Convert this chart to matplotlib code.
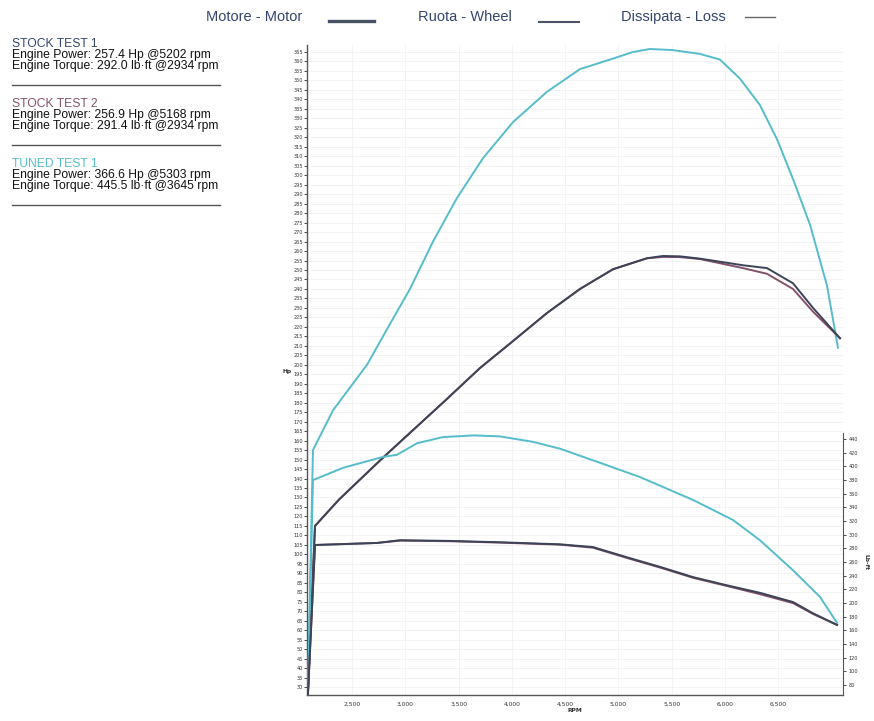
import numpy as np
import matplotlib

matplotlib.use("Agg")
import matplotlib.pyplot as plt  # noqa: E402
from matplotlib.lines import Line2D  # noqa: E402

# ---- data ----
rpm_tuned_power = [2085, 2134, 2322, 2641, 2856, 3044, 3260, 3485, 3729, 4010,
                   4329, 4639, 4920, 5136, 5295, 5511, 5764, 5952, 6139, 6327,
                   6487, 6637, 6796, 6955, 7059]
hp_tuned = [25, 155, 176, 200, 221.5, 240, 265, 288, 309, 328,
            344, 356, 361, 365, 366.6, 366, 364, 361, 351, 337,
            319, 298, 274, 242, 209]

rpm_stock_power = [2085, 2153, 2380, 2697, 2810, 3372, 3701, 4010, 4329, 4639,
                   4948, 5267, 5417, 5577, 5764, 6168, 6393, 6637, 6825, 7078]
hp_stock1 = [25, 115, 129, 146, 152, 181, 198.3, 212.5, 227.3, 240,
             250.4, 256.2, 257.4, 257.2, 256, 252.5, 251, 243, 230, 214]
hp_stock2 = [25, 115, 129, 146, 152, 181, 198.3, 212.5, 227.3, 240,
             250.4, 256.2, 256.9, 256.8, 255.8, 251, 248, 240, 228, 214]

rpm_stock_torque = [2085, 2153, 2734, 2950, 3419, 3888, 4451, 4761, 5080, 5389,
                    5699, 6017, 6327, 6637, 6825, 7050]
tq_stock1 = [60, 285, 288, 292, 291, 289, 286, 282, 267, 253,
             238, 226, 215, 201.5, 185, 168]
tq_stock2 = [60, 285, 288, 291.4, 290.5, 288.5, 285.5, 281, 266, 252,
             237, 225, 213, 200, 184, 168]

rpm_tuned_torque = [2085, 2134, 2416, 2791, 2922, 3110, 3354, 3645, 3888, 4198,
                    4451, 4761, 5201, 5699, 6074, 6327, 6637, 6890, 7050]
tq_tuned = [60, 380, 398, 414, 417, 434, 443, 445.5, 444, 436,
            426, 409, 384.5, 351, 321.6, 292, 248, 209, 171]

hp_ticks = list(range(30, 366, 5))
tq_ticks = list(range(80, 441, 20))
rpm_ticks = list(range(2500, 6501, 500))

tests = [
    ("STOCK TEST 1", "Engine Power: 257.4 Hp @5202 rpm",
     "Engine Torque: 292.0 lb\u00b7ft @2934 rpm"),
    ("STOCK TEST 2", "Engine Power: 256.9 Hp @5168 rpm",
     "Engine Torque: 291.4 lb\u00b7ft @2934 rpm"),
    ("TUNED TEST 1", "Engine Power: 366.6 Hp @5303 rpm",
     "Engine Torque: 445.5 lb\u00b7ft @3645 rpm"),
]

C_STOCK1 = "#3c4458"
C_STOCK2 = "#84506a"
C_TUNED = "#55bccb"
C_TEXT = "#34466e"
FONT = ["Liberation Sans", "DejaVu Sans"]

W, H = 874, 721
fig = plt.figure(figsize=(W / 100, H / 100), dpi=100)
fig.patch.set_facecolor("white")

x0, x1, ytop, ybot = 307, 843, 45, 695
ax = fig.add_axes([x0 / W, 1 - ybot / H, (x1 - x0) / W, (ybot - ytop) / H])

ax.plot(rpm_tuned_power, hp_tuned, color=C_TUNED, lw=1.4)
ax.plot(rpm_stock_power, hp_stock2, color=C_STOCK2, lw=1.4)
ax.plot(rpm_stock_power, hp_stock1, color=C_STOCK1, lw=1.4)

ax.set_xlim(2078, 7106)
ax.set_ylim(25.8, 368.7)
ax.set_yticks(hp_ticks)
ax.set_xticks(rpm_ticks)
ax.set_xticklabels([f"{r:,}" for r in rpm_ticks])
ax.tick_params(axis="y", labelsize=3.6, length=2, width=0.5, pad=1,
               labelcolor="#333333")
ax.tick_params(axis="x", labelsize=4.3, length=0, pad=5, labelcolor="#333333")
ax.grid(True, color="#f1f1f1", lw=0.6)
ax.set_axisbelow(True)
for side in ["top", "right"]:
    ax.spines[side].set_visible(False)
for side in ["left", "bottom"]:
    ax.spines[side].set_color("#555555")
    ax.spines[side].set_linewidth(1.0)

ax.set_xlabel("RPM", fontsize=4.3, fontweight="bold", labelpad=0.5,
              color="#333333")
ax.set_ylabel("Hp", fontsize=4.3, fontweight="bold", rotation=0,
              color="#333333")
ax.yaxis.set_label_coords(-0.038, (195 - 25.8) / (368.7 - 25.8))

# torque on a short right-hand axis
axr = ax.twinx()
axr.plot(rpm_tuned_torque, tq_tuned, color=C_TUNED, lw=1.4)
axr.plot(rpm_stock_torque, tq_stock2, color=C_STOCK2, lw=1.4)
axr.plot(rpm_stock_torque, tq_stock1, color=C_STOCK1, lw=1.4)
axr.set_ylim(65.4, 1017)
axr.set_yticks(tq_ticks)
axr.tick_params(axis="y", labelsize=3.6, length=2, width=0.5, pad=2,
                labelcolor="#333333")
for side in ["top", "left", "bottom"]:
    axr.spines[side].set_visible(False)
axr.spines["right"].set_bounds(65.4, 449)
axr.spines["right"].set_color("#555555")
axr.text(1.043, (260 - 65.4) / (1017 - 65.4), "Lb-ft", rotation=270,
         transform=axr.transAxes, fontsize=4.3, fontweight="bold",
         ha="center", va="center", color="#333333")


def px(x, y):
    return x / W, 1 - y / H


# header legend
for label, cx, (lx0, lx1), ly, lw, lc in [
    ("Motore - Motor", 254, (329, 374), 21, 2.4, "#4a5266"),
    ("Ruota - Wheel", 465, (539, 579), 22, 1.5, "#4a5266"),
    ("Dissipata - Loss", 673, (745, 775), 17, 1.0, "#666666"),
]:
    fig.text(*px(cx, 17), label, family=FONT, fontsize=10.5, color=C_TEXT,
             ha="center", va="center")
    fig.add_artist(Line2D([lx0 / W, lx1 / W], [1 - ly / H, 1 - ly / H],
                          color=lc, lw=lw, transform=fig.transFigure))

# test summary block
title_colors = [C_TEXT, C_STOCK2, C_TUNED]
for i, (title, power, torque) in enumerate(tests):
    y0 = 44 + i * 60
    fig.text(*px(12, y0), title, family=FONT, fontsize=8.7,
             color=title_colors[i], va="center")
    fig.text(*px(12, y0 + 11), power, family=FONT, fontsize=8.7,
             color="#111111", va="center")
    fig.text(*px(12, y0 + 22), torque, family=FONT, fontsize=8.7,
             color="#111111", va="center")
    fig.add_artist(Line2D([12 / W, 220 / W],
                          [1 - (y0 + 41) / H, 1 - (y0 + 41) / H],
                          color="#555555", lw=1.0, transform=fig.transFigure))

fig.savefig("out.png", dpi=100, facecolor="white")
